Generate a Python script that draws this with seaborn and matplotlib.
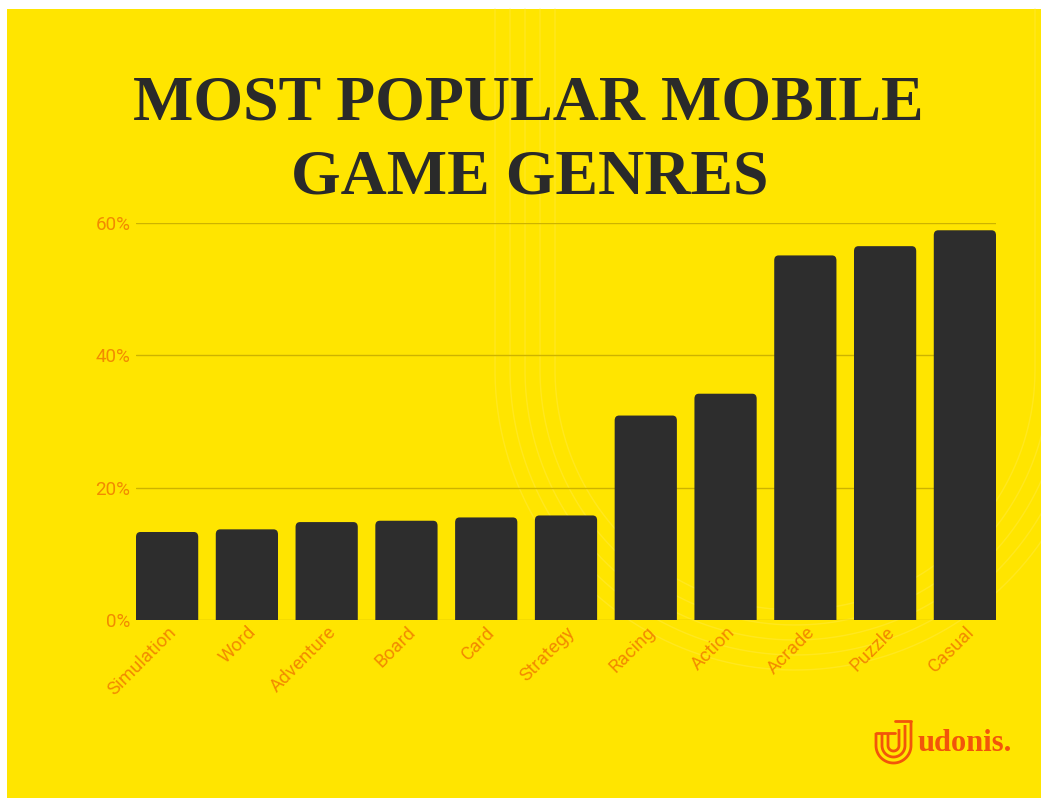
import numpy as np
import pandas as pd
import matplotlib
matplotlib.use("Agg")
import matplotlib.pyplot as plt
import seaborn as sns
from matplotlib.patches import FancyBboxPatch, Rectangle

# ---- data ----
genres = ["Simulation", "Word", "Adventure", "Board", "Card", "Strategy",
          "Racing", "Action", "Acrade", "Puzzle", "Casual"]
share = [13.3, 13.7, 14.8, 15.0, 15.5, 15.8, 30.9, 34.2, 55.1, 56.5, 58.9]
y_ticks = [0, 20, 40, 60]
y_tick_labels = ["0%", "20%", "40%", "60%"]
title_lines = ["MOST POPULAR MOBILE", "GAME GENRES"]
brand = "udonis."

YELLOW = "#FFE500"
BAR = "#2D2D2D"
ORANGE = "#F28A00"
GRID = "#CDB300"
BRAND = "#F2550A"

W, H = 1041, 798
sns.set_theme(style="white")
plt.rcParams["font.family"] = ["Roboto", "DejaVu Sans"]

fig = plt.figure(figsize=(W / 100, H / 100), dpi=100, facecolor="white")

# background layer in pixel coordinates (y grows downward)
bg = fig.add_axes([0, 0, 1, 1], zorder=-5)
bg.set_xlim(0, W)
bg.set_ylim(H, 0)
bg.axis("off")
bg.patch.set_alpha(0)

# yellow card with a thin white margin on the left and top
bg.add_patch(Rectangle((7, 9), W, H, facecolor=YELLOW, edgecolor="none",
                       zorder=0))

# faint decorative track lines
cx, cy = 795, 370
for r in [240, 255, 270, 285, 300]:
    th = np.linspace(np.pi, 0, 200)
    xs = np.concatenate([[cx - r], cx + r * np.cos(th), [cx + r]])
    ys = np.concatenate([[9], cy + r * np.sin(th), [9]])
    bg.plot(xs, ys, color="#FFEA3A", lw=1.0, alpha=0.55, zorder=1)

# ---- chart ----
ax = fig.add_axes([136 / W, 1 - 620 / H, (996 - 136) / W, (620 - 223) / H])
ax.patch.set_alpha(0)
df = pd.DataFrame({"genre": genres, "share": share})
sns.barplot(data=df, x="genre", y="share", color=BAR, width=0.78,
            saturation=1, ax=ax, zorder=3)

ax.set_xlim(-0.39, len(genres) - 1 + 0.39)
ax.set_ylim(0, 60)

# rounded tops: rebuild each seaborn bar with soft corners
rx = 0.055
ry = 0.75
for p in list(ax.patches):
    x0, w, h = p.get_x(), p.get_width(), p.get_height()
    rp = FancyBboxPatch((x0, -2), w, h + 2,
                        boxstyle=f"round,pad=0,rounding_size={rx}",
                        mutation_aspect=ry / rx,
                        facecolor=BAR, edgecolor="none", zorder=3)
    p.remove()
    ax.add_patch(rp)

ax.set_yticks(y_ticks)
ax.set_yticklabels(y_tick_labels)
ax.yaxis.grid(True, color=GRID, lw=1.0)
ax.set_axisbelow(True)
for s in ax.spines.values():
    s.set_visible(False)
ax.set_xlabel("")
ax.set_ylabel("")
ax.tick_params(axis="both", length=0, colors=ORANGE, labelsize=13.5)
ax.tick_params(axis="y", pad=4)
ax.tick_params(axis="x", pad=2)
for lab in ax.get_xticklabels():
    lab.set_rotation(45)
    lab.set_ha("right")
    lab.set_rotation_mode("anchor")
    lab.set_va("top")

# ---- title ----
serif = ["Liberation Serif", "DejaVu Serif"]
fig.text(528 / W, 1 - 120 / H, title_lines[0], ha="center", va="baseline",
         fontsize=46, fontweight="bold", family=serif, color="#2A2A2A")
fig.text(530 / W, 1 - 193 / H, title_lines[1], ha="center", va="baseline",
         fontsize=46, fontweight="bold", family=serif, color="#2A2A2A")

# ---- brand mark ----
fig.text(918 / W, 1 - 751 / H, brand, ha="left", va="baseline",
         fontsize=22, fontweight="bold", family=serif, color=BRAND)
for (l, r, top_l, top_r, bot) in [(876, 911, 733, 721, 763),
                                  (882, 905, 733, 725, 757),
                                  (888, 899, 733, 729, 751)]:
    rad = (r - l) / 2
    mid = (l + r) / 2
    th = np.linspace(np.pi, 0, 60)
    xs = np.concatenate([[l], mid + rad * np.cos(th), [r]])
    ys = np.concatenate([[top_l], bot - rad + rad * np.sin(th), [top_r]])
    bg.plot(xs, ys, color=BRAND, lw=2.0, solid_capstyle="butt", zorder=4)
bg.plot([876, 895], [733, 733], color=BRAND, lw=2.0, zorder=4)
bg.plot([895, 911], [721, 721], color=BRAND, lw=2.0, zorder=4)

fig.savefig("out.png", dpi=100, facecolor="white")
